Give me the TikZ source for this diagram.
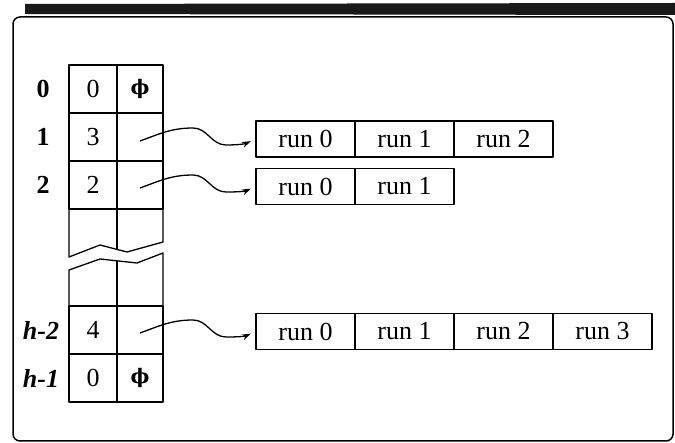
\documentclass[tikz,border=0pt]{standalone}
\usepackage{fontspec}
\setmainfont{Liberation Serif}
\newfontfamily\phifont{DejaVu Serif}
\usetikzlibrary{arrows.meta}
\tikzset{
  ln/.style={line width=1.3pt, line join=round},
  cellA/.style={ln, draw, rectangle, inner sep=0pt, minimum width=48pt, minimum height=48pt, font=\fontsize{26}{26}\selectfont},
  cellB/.style={ln, draw, rectangle, inner sep=0pt, minimum width=46pt, minimum height=48pt, font=\fontsize{26}{26}\selectfont},
  runbox/.style={ln, draw, rectangle, inner sep=0pt, minimum width=99pt, minimum height=36pt, font=\fontsize{26}{26}\selectfont},
  rowlab/.style={inner sep=0pt, font=\fontsize{26}{26}\selectfont\bfseries},
  hlab/.style={inner sep=0pt, font=\fontsize{26}{26}\selectfont\bfseries\itshape},
  arr/.style={line width=1.3pt, -{Stealth[length=9pt,width=6pt]}, shorten >=5pt},
}
\begin{document}
\begin{tikzpicture}[x=1pt,y=-1pt]
\useasboundingbox (0,0) rectangle (675,443);
% top scan band
\fill[black!90] (25,4) -- (675,3) -- (675,15) -- (25,14) -- cycle;
% frame
\draw[line width=1.5pt, rounded corners=7pt] (13,17) rectangle (673,441);

% table cells (full rows)
\node[cellA] (a0) at (93,89) {0};
\node[cellB] (b0) at (140,89) {\phifont\fontsize{20}{20}\selectfont\bfseries ϕ};
\node[cellA] (a1) at (93,137) {3};
\node[cellB] (b1) at (140,137) {};
\node[cellA] (a2) at (93,185) {2};
\node[cellB] (b2) at (140,185) {};
\node[cellA] (a3) at (93,330) {4};
\node[cellB] (b3) at (140,330) {};
\node[cellA] (a4) at (93,378) {0};
\node[cellB] (b4) at (140,378) {\phifont\fontsize{20}{20}\selectfont\bfseries ϕ};

% broken partial rows
\draw[ln] (69,209) -- (69,257) -- (100,245) -- (127,252) -- (163,242) -- (163,209);
\draw[ln] (117,209) -- (117,249.5);
\draw[ln] (69,306) -- (69,270) -- (100,259) -- (137,263) -- (163,253) -- (163,306);
\draw[ln] (117,261) -- (117,306);

% row labels
\node[rowlab] (l0) at (43,89) {0};
\node[rowlab] (l1) at (43,137) {1};
\node[rowlab] (l2) at (43,185) {2};
\node[hlab] (l3) at (41,330) {h-2};
\node[hlab] (l4) at (41,378) {h-1};

% run lists
\node[runbox] (r10) at (305.5,139) {run 0};
\node[runbox] (r11) at (404.5,139) {run 1};
\node[runbox] (r12) at (503.5,139) {run 2};

\node[runbox] (r20) at (305.5,186.5) {run 0};
\node[runbox] (r21) at (404.5,186.5) {run 1};

\node[runbox] (r30) at (305.5,331.5) {run 0};
\node[runbox] (r31) at (404.5,331.5) {run 1};
\node[runbox] (r32) at (503.5,331.5) {run 2};
\node[runbox] (r33) at (602.5,331.5) {run 3};

% arrows
\draw[arr] ([yshift=-4pt]b1.center) to[out=20,in=180] ++(53,-13) to[out=0,in=180] ++(33,17) to[out=0,in=205] (r10.west);
\draw[arr] ([yshift=-3pt]b2.center) to[out=20,in=180] ++(53,-13) to[out=0,in=180] ++(33,17) to[out=0,in=205] (r20.west);
\draw[arr] ([yshift=-3pt]b3.center) to[out=20,in=180] ++(53,-13) to[out=0,in=180] ++(33,17) to[out=0,in=205] (r30.west);
\end{tikzpicture}
\end{document}
